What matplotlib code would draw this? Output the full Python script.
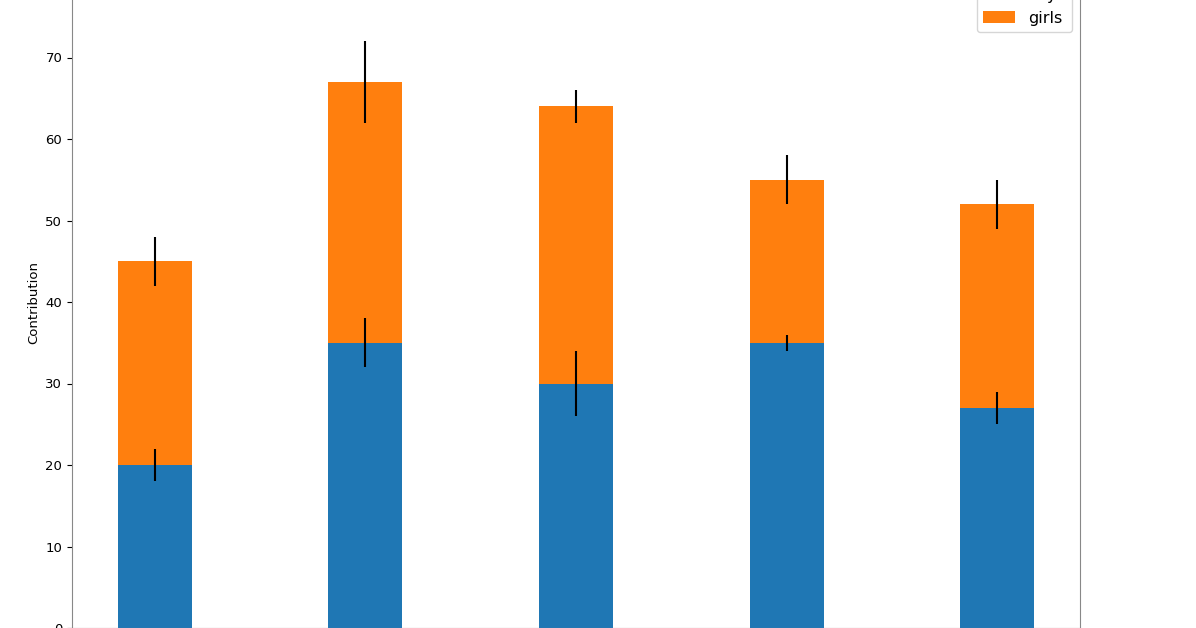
import numpy as np
import matplotlib.pyplot as plt

groups = ['G1', 'G2', 'G3', 'G4', 'G5']
boys_means = [20, 35, 30, 35, 27]
girls_means = [25, 32, 34, 20, 25]
boys_std = [2, 3, 4, 1, 2]
girls_std = [3, 5, 2, 3, 3]

ind = np.arange(len(groups))
width = 0.35

fig = plt.figure(figsize=(11.96, 6.28), dpi=100)
# axes runs past the top of the picture, like a cropped screenshot
ax = fig.add_axes([72/1196, 0.0, 1008/1196, 80*8.15/628])

ax.bar(ind, boys_means, width, yerr=boys_std, label='boys', color='#1f77b4')
ax.bar(ind, girls_means, width, bottom=boys_means, yerr=girls_std,
       label='girls', color='#ff7f0e')

ax.set_ylim(0, 80)
ax.set_yticks(np.arange(0, 80, 10))
ax.set_xticks(ind)
ax.set_xticklabels(groups)
ax.set_ylabel('Contribution', fontsize=9.5)
ax.tick_params(labelsize=9.5)
for s in ax.spines.values():
    s.set_color('#888888')

ax.legend(loc='lower right', bbox_to_anchor=(1080/1196, 1 - 40/628),
          bbox_transform=fig.transFigure, fontsize=11.5)

fig.savefig('out.png', dpi=100)
